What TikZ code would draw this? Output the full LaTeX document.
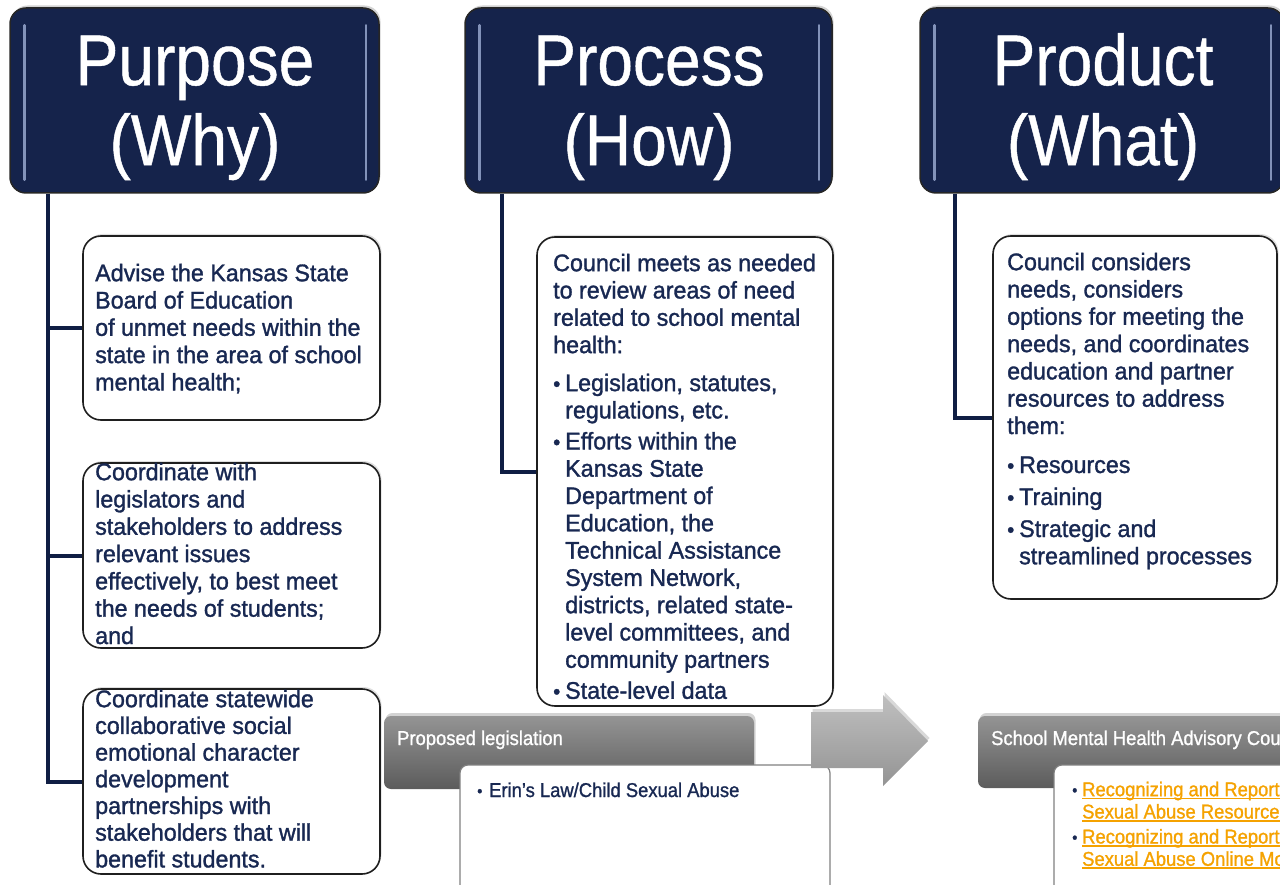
\documentclass[tikz,border=0pt]{standalone}
\usepackage{fontspec}
\setmainfont[FakeStretch=0.97,FakeBold=1.3]{Liberation Sans}
\newfontfamily\hdfont[FakeStretch=0.89,FakeBold=0.6]{Liberation Sans}
\newfontfamily\smfont[FakeStretch=0.92,FakeBold=1.1]{Liberation Sans}
\usetikzlibrary{shadows}

\definecolor{navy}{RGB}{21,35,75}
\definecolor{txtnavy}{RGB}{24,40,82}
\definecolor{connavy}{RGB}{16,30,68}
\definecolor{hlblue}{RGB}{130,146,185}
\definecolor{linkorange}{RGB}{245,162,0}

\newcommand\bulbig{\makebox[12pt][l]{\raisebox{0pt}{\fontsize{21}{21}\selectfont •}}}
\newcommand\bulsm[1]{\makebox[#1][l]{\color{txtnavy}\raisebox{0.5pt}{\fontsize{16}{16}\selectfont •}}}
\newcommand\indsp{\hspace*{12pt}}
\newcommand\myul[1]{\setbox0\hbox{#1}\rlap{\rule[-3pt]{\wd0}{1.6pt}}\box0}

\begin{document}
\begin{tikzpicture}[x=1pt,y=-1pt,
  hdr/.style={draw=black!85, line width=1.5pt, fill=navy, rounded corners=16,
    drop shadow={opacity=0.35, shadow xshift=1.5, shadow yshift=-2.5}},
  hdrtext/.style={text=white, font=\hdfont\fontsize{72}{80}\selectfont, align=center, inner sep=0},
  hl/.style={draw=hlblue, line width=2.5pt, line cap=round},
  tbox/.style={draw=black!88, line width=1.6pt, rounded corners=18, fill=white,
    drop shadow={opacity=0.25, shadow xshift=1.5, shadow yshift=-2}},
  body/.style={text=txtnavy, font=\fontsize{24}{27.3}\selectfont, align=left, inner sep=0, anchor=north west},
  conn/.style={draw=connavy, line width=4pt, line join=miter},
  gbox/.style={rounded corners=7, top color=black!42, bottom color=black!64, draw=none,
    drop shadow={opacity=0.35, shadow xshift=1.5, shadow yshift=-3}},
  gtext/.style={text=white, font=\smfont\fontsize{20}{22}\selectfont, inner sep=0, anchor=base west},
  wbox/.style={draw=black!50, line width=1.2pt, rounded corners=8, fill=white},
  small/.style={text=txtnavy, font=\smfont\fontsize{20}{22.3}\selectfont, inner sep=0, align=left}
]
\useasboundingbox (0,0) rectangle (1280,885);
\clip (0,0) rectangle (1280,885);

% ---------- headers
\node[hdr, minimum width=369, minimum height=185] (hpur) at (194.5,100.5) {};
\node[hdr, minimum width=367, minimum height=185] (hpro) at (648.5,100.5) {};
\node[hdr, minimum width=364, minimum height=185] (hprd) at (1102,100.5) {};
\foreach \h in {hpur,hpro,hprd}{
  \draw[hl] ([xshift=15,yshift=-18]\h.north west) -- ([xshift=15,yshift=14]\h.south west);
  \draw[hl] ([xshift=-14,yshift=-18]\h.north east) -- ([xshift=-14,yshift=14]\h.south east);
}
\node[hdrtext, anchor=north] (tpur) at (195,25) {\rule{0pt}{60pt}Purpose\\(Why)};
\node[hdrtext, anchor=north] (tpro) at (649,25) {\rule{0pt}{60pt}Process\\(How)};
\node[hdrtext, anchor=north] (tprd) at (1103,25) {\rule{0pt}{60pt}Product\\(What)};

% ---------- text boxes
\node[tbox, minimum width=297, minimum height=184] (p1) at (231.5,328) {};
\node[tbox, minimum width=297, minimum height=185] (p2) at (231.5,555.5) {};
\node[tbox, minimum width=297, minimum height=185] (p3) at (231.5,781.5) {};
\node[tbox, minimum width=296, minimum height=469] (pr) at (685,471.5) {};
\node[tbox, minimum width=284, minimum height=363] (pd) at (1135,417.5) {};

% ---------- connectors
\coordinate (pa) at ([xshift=39]hpur.south west);
\coordinate (pb) at ([xshift=38]hpro.south west);
\coordinate (pc) at ([xshift=36]hprd.south west);
\draw[conn] (pa) |- (p3.west);
\draw[conn] (p1.west) -- (p1.west -| pa);
\draw[conn] (p2.west) -- (p2.west -| pa);
\draw[conn] (pb) |- (pr.west);
\draw[conn] (pc) |- (pd.west);

% ---------- texts
\node[body] (t1) at (95,259) {\rule{0pt}{22pt}Advise the Kansas State\\Board of Education\\of unmet needs within the\\state in the area of school\\mental health;};
\node[body] (t2) at (95,458) {\rule{0pt}{22pt}Coordinate with\\legislators and\\stakeholders to address\\relevant issues\\effectively, to best meet\\the needs of students;\\and};
\node[body, font=\fontsize{24}{26.7}\selectfont] (t3) at (95,685) {\rule{0pt}{22pt}Coordinate statewide\\collaborative social\\emotional character\\development\\partnerships with\\stakeholders that will\\benefit students.};
\node[body] (t4) at (553,249) {\rule{0pt}{22pt}Council meets as needed\\to review areas of need\\related to school mental\\health:\\[10.7pt]
\bulbig Legislation, statutes,\\\indsp regulations, etc.\\[3.7pt]
\bulbig Efforts within the\\\indsp Kansas State\\\indsp Department of\\\indsp Education, the\\\indsp Technical Assistance\\\indsp System Network,\\\indsp districts, related state-\\\indsp level committees, and\\\indsp community partners\\[3.7pt]
\bulbig State-level data};
\node[body] (t5) at (1007,248) {\rule{0pt}{22pt}Council considers\\needs, considers\\options for meeting the\\needs, and coordinates\\education and partner\\resources to address\\them:\\[11.7pt]
\bulbig Resources\\[4.7pt]
\bulbig Training\\[4.7pt]
\bulbig Strategic and\\\indsp streamlined processes};

% ---------- bottom: proposed legislation
\node[gbox, minimum width=370, minimum height=73] (gl) at (569,752.5) {};
\node[wbox, minimum width=370, minimum height=150] (wl) at (645,840) {};
\node[gtext] (glt) at (397,745) {Proposed legislation};
\node[small, anchor=base west] (wlt) at (477,797) {\bulsm{12pt}Erin’s Law/Child Sexual Abuse};

% ---------- arrow
\path[top color=black!25, bottom color=black!42, drop shadow={opacity=0.3, shadow xshift=1.5, shadow yshift=-3}]
  (811,712) -- (883,712) -- (883,695) -- (928,741) -- (883,786) -- (883,768) -- (811,768) -- cycle;

% ---------- bottom: advisory council
\node[gbox, minimum width=320, minimum height=72] (gr) at (1138,752) {};
\node[wbox, minimum width=240, minimum height=150] (wr) at (1174,840) {};
\node[gtext] (grt) at (991,745) {School Mental Health Advisory Cou};
\node[small, anchor=north west, text=linkorange] (wrt) at (1072,778) {\rule{0pt}{18pt}\bulsm{10pt}\myul{Recognizing and Report}\\\hspace*{10pt}\myul{Sexual Abuse Resource}\\[2.7pt]
\bulsm{10pt}\myul{Recognizing and Report}\\\hspace*{10pt}\myul{Sexual Abuse Online Mo}};
\end{tikzpicture}
\end{document}
